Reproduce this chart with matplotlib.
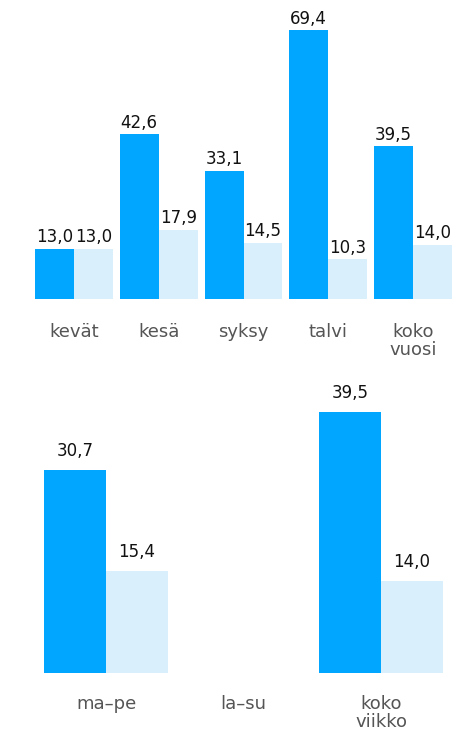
import numpy as np
import matplotlib
matplotlib.use("Agg")
import matplotlib.pyplot as plt

# kausittain
seasons = ["kevät", "kesä", "syksy", "talvi", "koko\nvuosi"]
season_dark = [13.0, 42.6, 33.1, 69.4, 39.5]
season_light = [13.0, 17.9, 14.5, 10.3, 14.0]

# viikonpäivittäin (la-su puuttuu)
days = ["ma\u2013pe", "la\u2013su", "koko\nviikko"]
day_dark = [30.7, np.nan, 39.5]
day_light = [15.4, np.nan, 14.0]

DARK = "#00a6ff"
LIGHT = "#d9effc"
W, H = 469, 732


def fmt(v):
    return f"{v:.1f}".replace(".", ",")


def px_axes(fig, left, right, top, bottom):
    # pixel coords from top-left of the figure
    return fig.add_axes([left / W, 1 - bottom / H, (right - left) / W, (bottom - top) / H])


def draw(ax, cats, dark, light, width, ymax, gap, label_y):
    x = np.arange(len(cats))
    ax.bar(x - width / 2, dark, width, color=DARK)
    ax.bar(x + width / 2, light, width, color=LIGHT)
    for xi, d, l in zip(x, dark, light):
        if np.isnan(d):
            continue
        ax.text(xi - width / 2, d + gap, fmt(d), ha="center", va="bottom", fontsize=12, color="#111111")
        ax.text(xi + width / 2, l + gap, fmt(l), ha="center", va="bottom", fontsize=12, color="#111111")
    for xi, c in zip(x, cats):
        ax.text(xi, label_y, c, ha="center", va="top", fontsize=13, color="#555555",
                linespacing=1.0, transform=ax.get_xaxis_transform(), clip_on=False)
    ax.set_xlim(-0.5, len(cats) - 0.5)
    ax.set_ylim(0, ymax)
    ax.axis("off")


fig = plt.figure(figsize=(W / 100, H / 100), dpi=100)

ax1 = px_axes(fig, 31.6, 455.4, 0, 299)
draw(ax1, seasons, season_dark, season_light, 0.46, 299 / 3.876, 0.6, -0.08)

ax2 = px_axes(fig, 37.25, 449.75, 380, 673)
draw(ax2, days, day_dark, day_light, 0.45, 293 / 6.6, 1.5, -0.076)

fig.savefig("out.png", dpi=100)
